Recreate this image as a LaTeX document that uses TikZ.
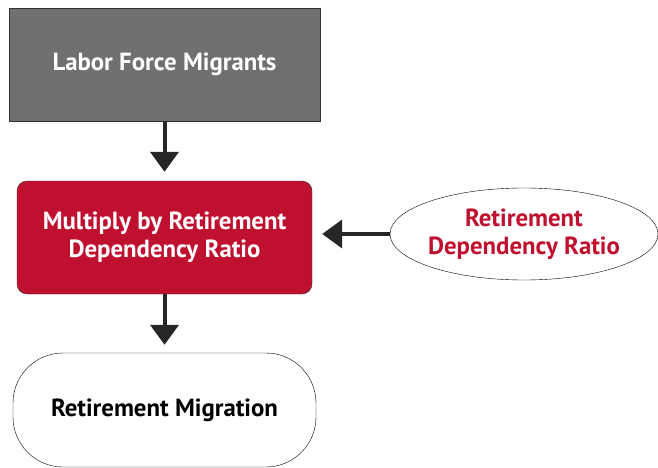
\documentclass[tikz,border=0pt]{standalone}
\usepackage{fontspec}
\setmainfont{PT Sans}
\usepackage{xcolor}
\usetikzlibrary{shapes.geometric}
\usetikzlibrary{arrows.meta}
\definecolor{boxgray}{HTML}{707073}
\definecolor{ratiored}{HTML}{C0102F}

\begin{document}
\begin{tikzpicture}[x=1pt, y=-1pt, font=\bfseries\fontsize{24.8}{28}\selectfont,
    flow/.style={-{Triangle[width=28pt,length=20pt]}, line width=4pt, draw=black!85}]
            \useasboundingbox (0,0) rectangle (658,468);
            \node[draw=black!80, fill=boxgray, text=white, minimum width=311pt, minimum height=113pt] (migrants) at (164.5,64.5) {Labor Force Migrants};
            \node[draw=black!80, fill=ratiored, text=white, rounded corners=10pt, align=center, minimum width=295pt, minimum height=113pt] (multiply) at (164.5,237.5) {Multiply by Retirement\\Dependency Ratio};
            \node[draw, ellipse, text=ratiored, align=center, inner xsep=-10pt, inner ysep=0pt, minimum width=268pt, minimum height=92pt] (ratio) at (524,234) {Retirement\\Dependency Ratio};
            \node[draw, rounded corners=50pt, minimum width=303pt, minimum height=114pt] (retire) at (164.5,410) {Retirement Migration};
            
            \draw[flow, shorten >=9pt] (migrants) -- (multiply);
            \draw[flow, shorten >=8pt] (multiply) -- (retire);
            \draw[flow, shorten >=10pt] (ratio.west) -- (ratio.west -| multiply.east);
        \end{tikzpicture}
\end{document}
